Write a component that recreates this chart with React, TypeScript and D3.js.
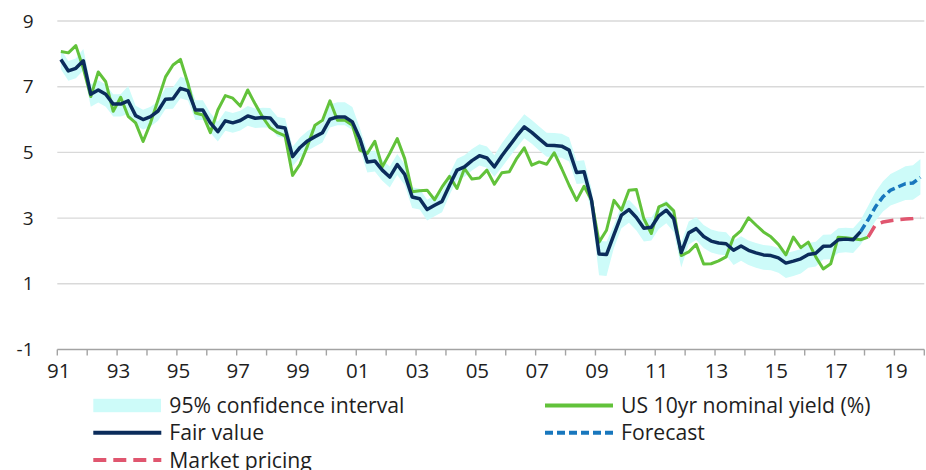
import React from 'react';
import * as d3 from 'd3';

// Quarterly series, first quarter = 1991 Q1
const FIRST_YEAR = 1991;

// US 10yr nominal yield (%), 1991 Q1 – 2018 Q1
const yieldActual = [
  8.07, 8.03, 8.25, 7.56, 6.70, 7.45, 7.15, 6.25,
  6.68, 6.10, 5.90, 5.33, 5.90, 6.60, 7.30, 7.66,
  7.83, 7.10, 6.20, 6.14, 5.60, 6.29, 6.73, 6.65,
  6.41, 6.90, 6.47, 6.07, 5.75, 5.60, 5.50, 4.30,
  4.64, 5.20, 5.83, 5.98, 6.57, 5.98, 5.98, 5.83,
  5.07, 4.97, 5.34, 4.56, 4.97, 5.42, 4.81, 3.80,
  3.83, 3.85, 3.56, 3.95, 4.27, 3.90, 4.51, 4.19,
  4.22, 4.46, 4.03, 4.38, 4.41, 4.82, 5.14, 4.61,
  4.71, 4.64, 4.99, 4.51, 4.00, 3.54, 3.97, 3.54,
  2.27, 2.63, 3.54, 3.24, 3.85, 3.87, 2.98, 2.53,
  3.34, 3.44, 3.22, 1.86, 1.97, 2.20, 1.60, 1.61,
  1.70, 1.82, 2.42, 2.62, 3.01, 2.79, 2.58, 2.43,
  2.20, 1.88, 2.42, 2.10, 2.27, 1.82, 1.45, 1.61,
  2.42, 2.40, 2.37, 2.34, 2.42,
];

// Model fair value, 1991 Q1 – 2017 Q4
const fairValue = [
  7.83, 7.48, 7.56, 7.79, 6.77, 6.90, 6.77, 6.47,
  6.47, 6.57, 6.12, 6.00, 6.09, 6.26, 6.62, 6.63,
  6.95, 6.88, 6.29, 6.29, 5.90, 5.63, 5.96, 5.90,
  5.97, 6.11, 6.04, 6.06, 6.05, 5.78, 5.74, 4.87,
  5.15, 5.35, 5.48, 5.60, 6.01, 6.08, 6.08, 5.93,
  5.42, 4.71, 4.74, 4.46, 4.25, 4.63, 4.33, 3.64,
  3.59, 3.26, 3.39, 3.51, 4.00, 4.46, 4.56, 4.75,
  4.90, 4.83, 4.56, 4.90, 5.20, 5.50, 5.78, 5.61,
  5.41, 5.22, 5.21, 5.19, 5.07, 4.39, 4.41, 3.54,
  1.91, 1.89, 2.50, 3.09, 3.26, 3.02, 2.69, 2.72,
  3.07, 3.24, 2.98, 1.95, 2.55, 2.68, 2.44, 2.30,
  2.24, 2.22, 2.02, 2.15, 2.02, 1.94, 1.88, 1.86,
  1.79, 1.63, 1.69, 1.76, 1.89, 1.93, 2.14, 2.15,
  2.34, 2.36, 2.34, 2.59,
];

// Fair value forecast, 2017 Q4 – 2019 Q4
const FORECAST_START = 107;
const forecast = [2.59, 2.95, 3.35, 3.65, 3.85, 3.95, 4.05, 4.07, 4.24];

// Market-implied path, 2018 Q1 – 2019 Q4
const MARKET_START = 108;
const marketPricing = [2.42, 2.80, 2.88, 2.92, 2.95, 2.97, 2.99, 3.02];

// 95% confidence interval, 1991 Q1 – 2019 Q4
const ciUpper = [
  8.13, 7.78, 7.86, 8.15, 7.07, 7.20, 7.07, 6.77,
  6.77, 7.02, 6.42, 6.30, 6.39, 6.56, 6.97, 6.98,
  7.30, 7.23, 6.59, 6.59, 6.20, 5.93, 6.26, 6.20,
  6.27, 6.41, 6.34, 6.36, 6.35, 6.08, 6.04, 5.17,
  5.45, 5.65, 5.78, 5.90, 6.46, 6.53, 6.53, 6.38,
  5.74, 5.03, 5.06, 4.78, 4.57, 4.95, 4.65, 3.94,
  3.89, 3.56, 3.69, 3.81, 4.35, 4.81, 4.91, 5.10,
  5.25, 5.18, 4.91, 5.28, 5.58, 5.88, 6.16, 5.99,
  5.79, 5.60, 5.59, 5.57, 5.45, 4.74, 4.76, 3.89,
  2.31, 2.29, 2.80, 3.39, 3.56, 3.32, 2.99, 3.02,
  3.37, 3.54, 3.28, 2.25, 2.90, 3.03, 2.79, 2.65,
  2.59, 2.57, 2.32, 2.45, 2.32, 2.24, 2.18, 2.16,
  2.09, 1.93, 1.99, 2.06, 2.24, 2.28, 2.49, 2.50,
  2.69, 2.71, 2.69, 2.94, 3.37, 3.80, 4.12, 4.34,
  4.46, 4.58, 4.61, 4.80,
];
const ciLower = [
  7.53, 7.18, 7.26, 7.49, 6.39, 6.52, 6.39, 6.09,
  6.09, 6.17, 5.82, 5.70, 5.79, 5.96, 6.32, 6.33,
  6.65, 6.58, 5.99, 5.99, 5.60, 5.33, 5.66, 5.60,
  5.67, 5.81, 5.74, 5.76, 5.75, 5.48, 5.44, 4.57,
  4.85, 5.05, 5.18, 5.30, 5.76, 5.83, 5.83, 5.68,
  5.10, 4.39, 4.42, 4.14, 3.93, 4.31, 4.01, 3.31,
  3.26, 2.93, 3.06, 3.18, 3.70, 4.16, 4.26, 4.45,
  4.60, 4.53, 4.26, 4.55, 4.85, 5.15, 5.43, 5.26,
  5.06, 4.87, 4.86, 4.84, 4.72, 4.04, 4.06, 3.19,
  1.26, 1.24, 2.10, 2.69, 2.86, 2.62, 2.29, 2.32,
  2.67, 2.84, 2.58, 1.50, 2.20, 2.33, 2.09, 1.95,
  1.89, 1.87, 1.57, 1.70, 1.57, 1.49, 1.43, 1.41,
  1.34, 1.18, 1.24, 1.31, 1.49, 1.53, 1.74, 1.75,
  1.94, 1.96, 1.94, 2.19, 2.55, 2.92, 3.20, 3.38,
  3.47, 3.55, 3.56, 3.72,
];

const yTicks = [-1, 1, 3, 5, 7, 9];
const xLabels = ['91', '93', '95', '97', '99', '01', '03', '05', '07', '09', '11', '13', '15', '17', '19'];
const LAST_YEAR = 2020;

const W = 926;
const H = 470;
const FONT = '"Open Sans", "Noto Sans", sans-serif';

const C = {
  band: '#cdfbf9',
  green: '#62c23a',
  navy: '#0b2c5b',
  blue: '#1877bd',
  red: '#e0566f',
  grid: '#d9d9d9',
  axis: '#a3a3a3',
  text: '#1e1e1e',
};

const x = d3.scaleLinear().domain([FIRST_YEAR, LAST_YEAR]).range([57.3, 924.3]);
const y = d3.scaleLinear().domain([-1, 9]).range([349.5, 21]);
const qx = (q: number) => x(FIRST_YEAR + q / 4 + 0.12);

const lineFrom = (start: number) =>
  d3
    .line<number>()
    .x((_, i) => qx(start + i))
    .y((d) => y(d));

const bandArea = d3
  .area<number>()
  .x((_, i) => qx(i))
  .y0((_, i) => y(ciLower[i]))
  .y1((d) => y(d));

const yearTicks = d3.range(FIRST_YEAR, LAST_YEAR + 1);

type LegendItem = { label: string; kind: 'band' | 'line'; color?: string; dash?: string; col: number; row: number };
const legendItems: LegendItem[] = [
  { label: '95% confidence interval', kind: 'band', col: 0, row: 0 },
  { label: 'US 10yr nominal yield (%)', kind: 'line', color: C.green, col: 1, row: 0 },
  { label: 'Fair value', kind: 'line', color: C.navy, col: 0, row: 1 },
  { label: 'Forecast', kind: 'line', color: C.blue, dash: '8 4', col: 1, row: 1 },
  { label: 'Market pricing', kind: 'line', color: C.red, dash: '13 7', col: 0, row: 2 },
];

export default function App() {
  return (
    <svg
      width={W}
      height={H}
      viewBox={`0 0 ${W} ${H}`}
      style={{ position: 'absolute', left: 0, top: 0, background: '#fff' }}
      fontFamily={FONT}
    >
      {/* horizontal gridlines */}
      {yTicks
        .filter((t) => t > -1)
        .map((t) => (
          <line key={t} x1={x(FIRST_YEAR)} x2={x(LAST_YEAR)} y1={y(t)} y2={y(t)} stroke={C.grid} strokeWidth={1.4} />
        ))}

      {/* y tick labels */}
      {yTicks.map((t) => (
        <text key={t} x={33.5} y={y(t)} dy="0.35em" textAnchor="end" fontSize={19} fill={C.text}>
          {t}
        </text>
      ))}

      {/* confidence band */}
      <path d={bandArea(ciUpper) ?? ''} fill={C.band} stroke="none" />

      {/* series */}
      <path d={lineFrom(0)(yieldActual) ?? ''} fill="none" stroke={C.green} strokeWidth={3} strokeLinejoin="round" />
      <path d={lineFrom(0)(fairValue) ?? ''} fill="none" stroke={C.navy} strokeWidth={3.5} strokeLinejoin="round" />
      <path
        d={lineFrom(FORECAST_START)(forecast) ?? ''}
        fill="none"
        stroke={C.blue}
        strokeWidth={3.5}
        strokeDasharray="8 4"
      />
      <path
        d={lineFrom(MARKET_START)(marketPricing) ?? ''}
        fill="none"
        stroke={C.red}
        strokeWidth={3.5}
        strokeDasharray="13 7"
      />

      {/* x axis */}
      <line x1={x(FIRST_YEAR)} x2={x(LAST_YEAR)} y1={y(-1)} y2={y(-1)} stroke={C.axis} strokeWidth={1.4} />
      {yearTicks.map((yr) => (
        <line key={yr} x1={x(yr)} x2={x(yr)} y1={y(-1)} y2={y(-1) + 6} stroke={C.axis} strokeWidth={1.4} />
      ))}
      {xLabels.map((lab, i) => (
        <text key={lab} x={x(FIRST_YEAR + 2 * i) + 1.5} y={378} textAnchor="middle" fontSize={20.5} fill={C.text}>
          {lab}
        </text>
      ))}

      {/* legend */}
      {legendItems.map((it) => {
        const x0 = it.col === 0 ? 93.3 : 545;
        const cy = 405.5 + it.row * 27.2;
        return (
          <g key={it.label}>
            {it.kind === 'band' ? (
              <rect x={x0} y={cy - 6.7} width={67.7} height={13.4} fill={C.band} />
            ) : (
              <line
                x1={x0}
                x2={x0 + 68}
                y1={cy}
                y2={cy}
                stroke={it.color}
                strokeWidth={4}
                strokeDasharray={it.dash}
              />
            )}
            <text x={x0 + 76} y={cy} dy="0.36em" fontSize={21.2} fill={C.text}>
              {it.label}
            </text>
          </g>
        );
      })}
    </svg>
  );
}
